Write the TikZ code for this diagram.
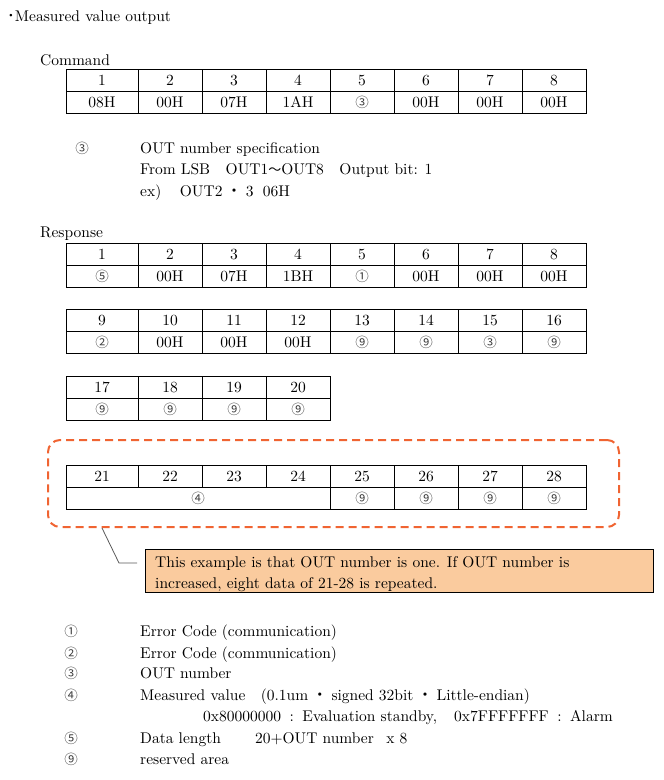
\documentclass[tikz,border=0pt]{standalone}
\usepackage{fontspec}
\setmainfont{lmroman10-regular}[Extension=.otf,BoldFont=lmroman10-bold]
\newfontfamily\cjk{Noto Sans CJK JP}
\definecolor{calloutred}{HTML}{F06432}
\definecolor{notefill}{HTML}{FACB9E}
\newcommand{\cnum}[1]{{\cjk\fontsize{13.5}{13.5}\selectfont\color{black!75}#1}}
\newcommand{\middot}{\hspace{0.25em}{\cjk ・}\hspace{0.25em}}
\begin{document}
\begin{tikzpicture}[x=1pt,y=-1pt,font=\fontsize{15.5}{21.5}\selectfont,
    txt/.style={anchor=base west,inner sep=0pt},
    cell/.style={inner sep=0pt,text height=10pt,text depth=0pt},
    tabline/.style={line width=0.9pt},
    groupbox/.style={draw=calloutred,line width=2pt,dash pattern=on 8pt off 5pt,rounded corners=12pt},
    notebox/.style={draw,fill=notefill,line width=1pt},
    leader/.style={draw=black!65,line width=0.8pt}]
  \useasboundingbox (0,0) rectangle (664,780);
  \path
    (7,21) node[txt] (title) {{\cjk ･}Measured value output}
    (40,65) node[txt] (cmdlabel) {Command}
    (40,237) node[txt] (resplabel) {Response};
  % command
  \begin{scope}[tabline]
    \draw (66,69) rectangle (586,113) (66,91) -- (586,91);
    \draw (138,69) -- (138,113) (202,69) -- (202,113) (266,69) -- (266,113) (330,69) -- (330,113)
          (394,69) -- (394,113) (458,69) -- (458,113) (522,69) -- (522,113);
  \end{scope}
  \path
    (102,80) node[cell] (c1) {1} (170,80) node[cell] (c2) {2} (234,80) node[cell] (c3) {3}
    (298,80) node[cell] (c4) {4} (362,80) node[cell] (c5) {5} (426,80) node[cell] (c6) {6}
    (490,80) node[cell] (c7) {7} (554,80) node[cell] (c8) {8}
    (102,102) node[cell] (cv1) {08H} (170,102) node[cell] (cv2) {00H} (234,102) node[cell] (cv3) {07H}
    (298,102) node[cell] (cv4) {1AH} (362,102) node[cell] (cv5) {\cnum{③}} (426,102) node[cell] (cv6) {00H}
    (490,102) node[cell] (cv7) {00H} (554,102) node[cell] (cv8) {00H};
  \path
    (82,148) node[cell] (spec) {\cnum{③}}
    (140,153) node[txt] (spec1) {OUT number specification}
    (140,174.5) node[txt] (spec2) {From LSB\hspace{1em}OUT1{\cjk\fontsize{13}{13}\selectfont ～}OUT8\hspace{1em}Output bit: 1}
    (140,196) node[txt] (spec3) {ex)\hspace{1.2em}OUT2\middot 3\hspace{0.6em}06H};
  % response 1-8
  \begin{scope}[tabline]
    \draw (66,243) rectangle (586,287) (66,265) -- (586,265);
    \draw (138,243) -- (138,287) (202,243) -- (202,287) (266,243) -- (266,287) (330,243) -- (330,287)
          (394,243) -- (394,287) (458,243) -- (458,287) (522,243) -- (522,287);
  \end{scope}
  \path
    (102,254) node[cell] (r1) {1} (170,254) node[cell] (r2) {2} (234,254) node[cell] (r3) {3}
    (298,254) node[cell] (r4) {4} (362,254) node[cell] (r5) {5} (426,254) node[cell] (r6) {6}
    (490,254) node[cell] (r7) {7} (554,254) node[cell] (r8) {8}
    (102,276) node[cell] (rv1) {\cnum{⑤}} (170,276) node[cell] (rv2) {00H} (234,276) node[cell] (rv3) {07H}
    (298,276) node[cell] (rv4) {1BH} (362,276) node[cell] (rv5) {\cnum{①}} (426,276) node[cell] (rv6) {00H}
    (490,276) node[cell] (rv7) {00H} (554,276) node[cell] (rv8) {00H};
  % response 9-16
  \begin{scope}[tabline]
    \draw (66,309) rectangle (586,353) (66,331) -- (586,331);
    \draw (138,309) -- (138,353) (202,309) -- (202,353) (266,309) -- (266,353) (330,309) -- (330,353)
          (394,309) -- (394,353) (458,309) -- (458,353) (522,309) -- (522,353);
  \end{scope}
  \path
    (102,320) node[cell] (r9) {9} (170,320) node[cell] (r10) {10} (234,320) node[cell] (r11) {11}
    (298,320) node[cell] (r12) {12} (362,320) node[cell] (r13) {13} (426,320) node[cell] (r14) {14}
    (490,320) node[cell] (r15) {15} (554,320) node[cell] (r16) {16}
    (102,342) node[cell] (rv9) {\cnum{②}} (170,342) node[cell] (rv10) {00H} (234,342) node[cell] (rv11) {00H}
    (298,342) node[cell] (rv12) {00H} (362,342) node[cell] (rv13) {\cnum{⑨}} (426,342) node[cell] (rv14) {\cnum{⑨}}
    (490,342) node[cell] (rv15) {\cnum{③}} (554,342) node[cell] (rv16) {\cnum{⑨}};
  % response 17-20
  \begin{scope}[tabline]
    \draw (66,376) rectangle (330,420) (66,398) -- (330,398);
    \draw (138,376) -- (138,420) (202,376) -- (202,420) (266,376) -- (266,420);
  \end{scope}
  \path
    (102,387) node[cell] (r17) {17} (170,387) node[cell] (r18) {18} (234,387) node[cell] (r19) {19}
    (298,387) node[cell] (r20) {20}
    (102,409) node[cell] (rv17) {\cnum{⑨}} (170,409) node[cell] (rv18) {\cnum{⑨}} (234,409) node[cell] (rv19) {\cnum{⑨}}
    (298,409) node[cell] (rv20) {\cnum{⑨}};
  % response 21-28, repeated per OUT
  \node[groupbox,minimum width=571pt,minimum height=87pt] (group) at (333.5,483.5) {};
  \begin{scope}[tabline]
    \draw (66,465) rectangle (586,509) (66,487) -- (586,487);
    \draw (138,465) -- (138,487) (202,465) -- (202,487) (266,465) -- (266,487) (330,465) -- (330,509)
          (394,465) -- (394,509) (458,465) -- (458,509) (522,465) -- (522,509);
  \end{scope}
  \path
    (102,476) node[cell] (r21) {21} (170,476) node[cell] (r22) {22} (234,476) node[cell] (r23) {23}
    (298,476) node[cell] (r24) {24} (362,476) node[cell] (r25) {25} (426,476) node[cell] (r26) {26}
    (490,476) node[cell] (r27) {27} (554,476) node[cell] (r28) {28}
    (198,498) node[cell] (rv21) {\cnum{④}} (362,498) node[cell] (rv25) {\cnum{⑨}}
    (426,498) node[cell] (rv26) {\cnum{⑨}} (490,498) node[cell] (rv27) {\cnum{⑨}} (554,498) node[cell] (rv28) {\cnum{⑨}};
  % callout
  \node[notebox,minimum width=508pt,minimum height=43pt,anchor=north west] (note) at (145,549) {};
  \path
    (155,567) node[txt] (note1) {This example is that OUT number is one. If OUT number is}
    (155,588) node[txt] (note2) {increased, eight data of 21-28 is repeated.};
  \coordinate (tail) at (102,528);
  \coordinate (knee) at (119,563);
  \coordinate (tip) at (137,563);
  \draw[leader] (tail) -- (knee) -- (tip);
  % legend
  \path
    (71,631.5) node[cell] (k1) {\cnum{①}} (140,636.5) node[txt] (k1t) {Error Code (communication)}
    (71,653) node[cell] (k2) {\cnum{②}} (140,658) node[txt] (k2t) {Error Code (communication)}
    (71,673.5) node[cell] (k3) {\cnum{③}} (140,678.5) node[txt] (k3t) {OUT number}
    (71,695) node[cell] (k4) {\cnum{④}} (140,700) node[txt] (k4t) {Measured value\hspace{1em}(0.1um\middot signed 32bit\middot Little-endian)}
    (203,721.5) node[txt] (k4u) {0x80000000\hspace{0.55em}:\hspace{0.55em}Evaluation standby,\hspace{1.1em}0x7FFFFFFF\hspace{0.55em}:\hspace{0.55em}Alarm}
    (71,738) node[cell] (k5) {\cnum{⑤}} (140,743) node[txt] (k5t) {Data length\hspace{2.2em}20+OUT number\hspace{0.8em}x 8}
    (71,759.5) node[cell] (k9) {\cnum{⑨}} (140,764.5) node[txt] (k9t) {reserved area};
\end{tikzpicture}
\end{document}
